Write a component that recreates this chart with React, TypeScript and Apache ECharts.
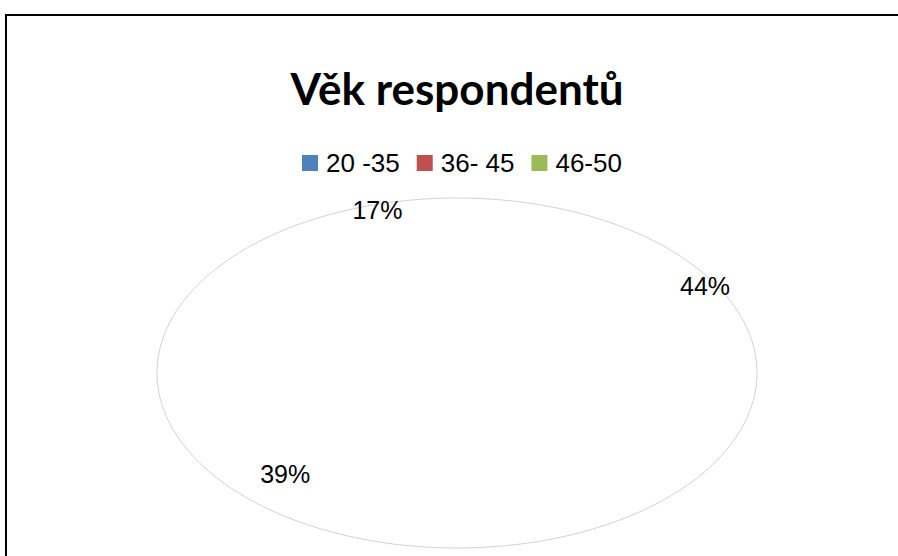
import React, { useEffect, useRef } from "react";
import * as echarts from "echarts";

const categories = ["20 -35", "36- 45", "46-50"];
const values = [44, 39, 17];
const colors = ["#4F81BD", "#C0504D", "#9BBB59"];
const titleText = "Věk respondentů";

// label layout nudges (pixels) relative to the geometric mid-point of each slice
const labelNudge = [
  [27, -62],
  [-3, 14],
  [35, -50],
];

export default function App() {
  const ref = useRef<HTMLDivElement>(null);
  useEffect(() => {
    if (!ref.current) return;
    const chart = echarts.init(ref.current, null, { renderer: "svg" });
    const total = values.reduce((a, b) => a + b, 0);
    const cx = 457, cy = 373, rx = 300, ry = 175;

    const renderItem = (params: any, api: any) => {
      const i = params.seriesIndex;
      const before = values.slice(0, i).reduce((a, b) => a + b, 0);
      const v = api.value(0);
      const a0 = (before / total) * Math.PI * 2;
      const a1 = a0 + (v / total) * Math.PI * 2;
      const arc: number[][] = [];
      const N = 120;
      for (let n = 0; n <= N; n++) {
        const t = a0 + ((a1 - a0) * n) / N;
        arc.push([cx + rx * Math.sin(t), cy - ry * Math.cos(t)]);
      }
      const mid = (a0 + a1) / 2;
      const k = 0.75;
      const lx = cx + rx * k * Math.sin(mid) + labelNudge[i][0];
      const ly = cy - ry * k * Math.cos(mid) + labelNudge[i][1];
      return {
        type: "group",
        children: [
          {
            type: "polygon",
            shape: { points: [[cx, cy], ...arc] },
            style: { fill: "#ffffff", stroke: "none" },
          },
          {
            type: "polyline",
            shape: { points: arc },
            style: { stroke: "#d2d2d2", lineWidth: 1, fill: "none" },
          },
          {
            type: "text",
            x: lx,
            y: ly,
            style: {
              text: Math.round((v / total) * 100) + "%",
              fontSize: 25,
              fontFamily: "Liberation Sans, Arial, sans-serif",
              fill: "#000000",
              align: "center",
              verticalAlign: "middle",
              textAlign: "center",
              textVerticalAlign: "middle",
            },
          },
        ],
      };
    };

    chart.setOption({
      animation: false,
      backgroundColor: "#ffffff",
      legend: {
        data: categories,
        left: 297,
        top: 145,
        itemWidth: 16,
        itemHeight: 16,
        itemGap: 17,
        icon: "rect",
        textStyle: {
          fontSize: 26,
          fontFamily: "Liberation Sans, Arial, sans-serif",
          color: "#000000",
          padding: [0, 0, 0, 3],
        },
        selectedMode: false,
      },
      graphic: [
        {
          type: "rect",
          z: -10,
          shape: { x: 6, y: 15, width: 1000, height: 1000 },
          style: { fill: "none", stroke: "#000000", lineWidth: 2 },
        },
        {
          type: "text",
          x: 457,
          y: 88,
          style: {
            text: titleText,
            fontSize: 44,
            fontWeight: "bold",
            fontFamily: "Lato, sans-serif",
            fill: "#000000",
            align: "center",
            verticalAlign: "middle",
            textAlign: "center",
            textVerticalAlign: "middle",
          },
        },
      ],
      series: categories.map((name, i) => ({
        type: "custom",
        name,
        coordinateSystem: "none",
        itemStyle: { color: colors[i] },
        renderItem,
        data: [[values[i]]],
      })),
    });
    return () => chart.dispose();
  }, []);
  return (
    <div
      ref={ref}
      style={{ position: "fixed", left: 0, top: 0, width: 898, height: 556 }}
    />
  );
}
